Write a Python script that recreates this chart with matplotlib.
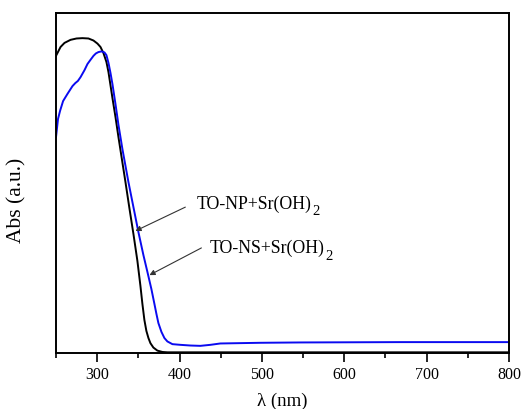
import matplotlib
matplotlib.use("Agg")
import matplotlib.pyplot as plt

# Wavelengths (nm) and absorbance (a.u.)
wl_np = [250, 255.5, 260.3, 267.6, 274.9, 282.1, 289.4, 295.5, 300.3, 304.0,
         307.6, 311.2, 313.7, 316.1, 318.5, 322.2, 325.8, 329.4, 334.3, 339.1,
         344.0, 348.8, 352.5, 354.9, 357.3, 359.7, 362.2, 364.6, 368.2, 373.1,
         379.2, 385.2, 400, 500, 600, 700, 800]
abs_np = [0.874, 0.900, 0.912, 0.921, 0.925, 0.926, 0.925, 0.919, 0.910, 0.900,
          0.882, 0.856, 0.826, 0.788, 0.750, 0.694, 0.635, 0.579, 0.503, 0.426,
          0.350, 0.271, 0.197, 0.144, 0.097, 0.065, 0.044, 0.029, 0.016, 0.007,
          0.003, 0.002, 0.002, 0.002, 0.002, 0.002, 0.002]

wl_ns = [250, 252.4, 254.9, 258.6, 263.9, 270.0, 273.5, 276.5, 279.7, 284.6,
         288.2, 291.8, 295.5, 298.4, 301.5, 305.2, 308.8, 311.2, 313.7, 316.1,
         318.5, 322.2, 325.8, 330.6, 337.9, 344.0, 350.0, 356.1, 361.0, 365.8,
         369.5, 371.9, 374.3, 378.0, 381.6, 385.2, 391.3, 401.0, 413.1, 425.2,
         437.4, 449.5, 498, 546.5, 668, 800]
abs_ns = [0.635, 0.688, 0.712, 0.741, 0.762, 0.785, 0.794, 0.800, 0.811, 0.832,
          0.850, 0.862, 0.874, 0.881, 0.885, 0.887, 0.884, 0.876, 0.853, 0.824,
          0.791, 0.732, 0.671, 0.600, 0.503, 0.429, 0.356, 0.288, 0.238, 0.188,
          0.144, 0.115, 0.088, 0.062, 0.044, 0.034, 0.026, 0.024, 0.022, 0.021,
          0.024, 0.028, 0.030, 0.031, 0.032, 0.032]

x_ticks = [300, 400, 500, 600, 700, 800]
x_minor = [250, 350, 450, 550, 650, 750]
label_np = "TO-NP+Sr(OH)"
label_ns = "TO-NS+Sr(OH)"
label_sub = "2"

plt.rcParams['font.family'] = ['Liberation Serif', 'DejaVu Serif']

fig = plt.figure(figsize=(5.23, 4.10), dpi=100)
ax = fig.add_axes([0.1071, 0.1366, 0.8662, 0.8293])

ax.plot(wl_np, abs_np, color='black', lw=1.4)
ax.plot(wl_ns, abs_ns, color='#0a0af0', lw=1.4)

ax.set_xlim(250, 800)
ax.set_ylim(0, 1.0)
ax.set_xticks(x_ticks)
ax.set_xticks(x_minor, minor=True)
ax.set_yticks([])
ax.tick_params(axis='x', which='major', direction='out', length=6.5, width=1.2,
               labelsize=11.5, pad=3)
ax.tick_params(axis='x', which='minor', direction='out', length=3.5, width=1.2)
for s in ax.spines.values():
    s.set_linewidth(1.4)

ax.set_xlabel("λ (nm)", fontsize=13.5, labelpad=7)
ax.set_ylabel("Abs (a.u.)", fontsize=15.5)
ax.yaxis.set_label_coords(-0.066, 0.453)

arrow_kw = dict(arrowstyle='-|>', color='#333333', lw=0.8,
                mutation_scale=8, shrinkA=0, shrinkB=0)
ax.annotate("", xy=(346.4, 0.359), xytext=(407, 0.429), arrowprops=arrow_kw)
ax.annotate("", xy=(363.4, 0.229), xytext=(426.5, 0.309), arrowprops=arrow_kw)
t1 = ax.text(421.2, 0.428, label_np, fontsize=12.8, ha='left', va='baseline')
t2 = ax.text(436.5, 0.296, label_ns, fontsize=12.8, ha='left', va='baseline')
for t in (t1, t2):
    ax.annotate(label_sub, xy=(1, 0), xycoords=t, xytext=(0.3, -1.8),
                textcoords='offset points', fontsize=10.5,
                ha='left', va='baseline')

fig.savefig("out.png", dpi=100)
